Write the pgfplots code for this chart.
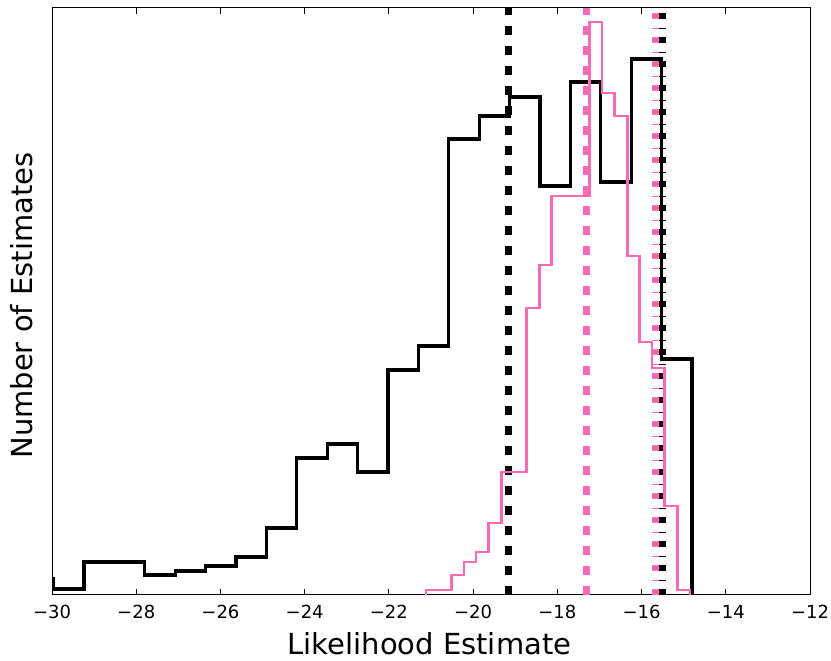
\documentclass[border=0pt]{standalone}
\usepackage{fontspec}
\setmainfont{DejaVu Sans}
\usepackage{pgfplots}
\pgfplotsset{compat=1.18}
\definecolor{hpink}{RGB}{255,105,180}
\begin{document}
\begin{tikzpicture}
\useasboundingbox (0,0) rectangle (623.25pt,495pt);
\begin{axis}[
  at={(39pt,48.75pt)}, anchor=south west,
  scale only axis, width=568.5pt, height=440.25pt,
  xmin=-30, xmax=-12, ymin=0, ymax=587,
  xtick={-30,-28,-26,-24,-22,-20,-18,-16,-14,-12},
  xticklabels={−30,−28,−26,−24,−22,−20,−18,−16,−14,−12},
  ytick=\empty,
  xtick pos=both, tick align=inside,
  major tick length=4.5pt,
  tick style={black, line width=0.6pt},
  axis line style={black, line width=0.75pt},
  xticklabel style={font=\fontsize{13.5pt}{16pt}\selectfont, anchor=base, yshift=-18pt},
  xlabel={Likelihood Estimate},
  ylabel={Number of Estimates},
  xlabel style={font=\fontsize{21.75pt}{26pt}\selectfont, at={(axis description cs:0.498,-0.1022)}, anchor=base},
  ylabel style={font=\fontsize{21.75pt}{26pt}\selectfont, at={(axis description cs:-0.02507,0.493)}, anchor=base, rotate=0},
  clip=true,
]
% black histogram
\addplot[const plot, black, line width=2.4pt, line join=miter] coordinates {
(-30.68,16) (-29.96,6) (-29.24,33) (-28.52,33) (-27.80,20) (-27.07,24) (-26.35,29) (-25.63,38) (-24.91,67) (-24.19,137) (-23.46,151) (-22.74,123) (-22.02,225) (-21.30,249) (-20.58,456) (-19.85,479) (-19.13,498) (-18.41,409) (-17.69,513) (-16.97,413) (-16.24,536) (-15.52,236) (-14.80,0)
};
% black mean / quantile lines
\addplot[black, line width=5.2pt, dash pattern=on 6.75pt off 8.25pt] coordinates {(-19.16,0) (-19.16,587)};
\addplot[black, line width=5.2pt, dash pattern=on 4.5pt off 6pt on 1.1pt off 6.4pt] coordinates {(-15.51,0) (-15.51,587)};
% pink histogram
\addplot[const plot, hpink, line width=2pt, line join=miter] coordinates {
(-21.12,0) (-21.12,5) (-20.82,5) (-20.52,20) (-20.22,33) (-19.93,43) (-19.63,72) (-19.33,123) (-19.03,123) (-18.73,287) (-18.43,330) (-18.14,399) (-17.84,399) (-17.54,399) (-17.24,573) (-16.94,502) (-16.64,479) (-16.34,339) (-16.05,253) (-15.75,227) (-15.45,89) (-15.15,5) (-14.85,0)
};
\addplot[hpink, line width=5.2pt, dash pattern=on 6.75pt off 8.25pt] coordinates {(-17.30,0) (-17.30,587)};
\addplot[hpink, line width=5.2pt, dash pattern=on 4.5pt off 6pt on 1.1pt off 6.4pt] coordinates {(-15.66,0) (-15.66,587)};
\end{axis}
\end{tikzpicture}
\end{document}
